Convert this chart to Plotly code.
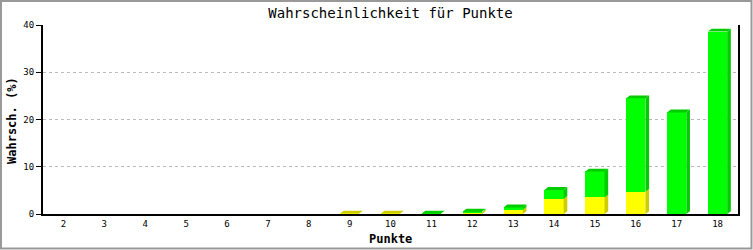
import plotly.graph_objects as go

# ---- data ----
punkte = [str(i) for i in range(2, 19)]
gelb = [0, 0, 0, 0, 0, 0, 0, 0.1, 0.1, 0, 0.3, 0.9, 3.2, 3.5, 4.7, 0, 0]
gruen = [0, 0, 0, 0, 0, 0, 0, 0, 0, 0.1, 0.2, 0.5, 1.9, 5.5, 19.8, 21.5, 38.6]
y_ticks = [0, 10, 20, 30, 40]

# ---- style ----
BAR_W = 0.47
DX = 0.09   # 3D depth in category units
DY = 0.6    # 3D depth in value units
Y_FRONT, Y_DARK = "#ffff00", "#cccc00"
G_FRONT, G_DARK = "#00ff00", "#00cc00"
MONO = "DejaVu Sans Mono, Liberation Mono, monospace"

xs = list(range(len(punkte)))

fig = go.Figure()
fig.add_trace(go.Bar(x=xs, y=gelb, width=BAR_W, marker=dict(color=Y_FRONT, line=dict(width=0)), hoverinfo="skip"))
fig.add_trace(go.Bar(x=xs, y=gruen, width=BAR_W, marker=dict(color=G_FRONT, line=dict(width=0)), hoverinfo="skip"))

def side(x, y0, y1):
    xr = x + BAR_W / 2
    return [xr, xr + DX, xr + DX, xr, xr, None], [y0, y0 + DY, y1 + DY, y1, y0, None]

def top(x, y):
    xl, xr = x - BAR_W / 2, x + BAR_W / 2
    return [xl, xl + DX, xr + DX, xr, xl, None], [y, y + DY, y + DY, y, y, None]

ysx, ysy, gsx, gsy, ytx, yty, gtx, gty = [], [], [], [], [], [], [], []
for x, a, b in zip(xs, gelb, gruen):
    if a + b <= 0:
        continue
    if a > 0:
        px, py = side(x, 0, a); ysx += px; ysy += py
    if b > 0:
        px, py = side(x, a, a + b); gsx += px; gsy += py
        px, py = top(x, a + b); gtx += px; gty += py
    else:
        px, py = top(x, a); ytx += px; yty += py

for px, py, col in [(ysx, ysy, Y_DARK), (gsx, gsy, G_DARK), (ytx, yty, Y_DARK), (gtx, gty, G_DARK)]:
    if px:
        fig.add_trace(go.Scatter(x=px, y=py, mode="lines", fill="toself", fillcolor=col,
                                 line=dict(width=0, color=col), hoverinfo="skip"))

# layout geometry (pixels)
L, R, T, B = 43, 15, 25, 36
PW, PH = 753 - L - R, 250 - T - B

def px2x(p):
    return (p - L) / PW

def py2y(p):
    return (250 - B - p) / PH

fig.add_shape(type="rect", xref="paper", yref="paper",
              x0=px2x(1), x1=px2x(751.5), y0=py2y(1), y1=py2y(248.5),
              line=dict(color="#999999", width=2), fillcolor="rgba(0,0,0,0)", layer="above")

fig.add_annotation(text="<b>Wahrsch. (%)</b>", xref="paper", yref="paper",
                   x=px2x(12), y=py2y(121), textangle=-90, showarrow=False,
                   xanchor="center", yanchor="middle",
                   font=dict(family=MONO, size=12, color="black"))
fig.add_annotation(text="<b>Punkte</b>", xref="paper", yref="paper",
                   x=0.5, y=py2y(239), showarrow=False,
                   xanchor="center", yanchor="middle",
                   font=dict(family=MONO, size=12, color="black"))

fig.update_layout(
    width=753, height=250,
    margin=dict(l=L, r=R, t=T, b=B, autoexpand=False),
    paper_bgcolor="white", plot_bgcolor="white",
    barmode="stack", bargap=0, showlegend=False,
    title=dict(text="Wahrscheinlichkeit für Punkte", x=0.5, xref="paper", xanchor="center",
               y=1 - 13 / 250, yanchor="middle", yref="container",
               font=dict(family=MONO, size=14, color="black")),
    font=dict(family=MONO, color="black"),
)
fig.update_xaxes(
    automargin=False,
    range=[-0.5, len(punkte) - 0.5], tickmode="array", tickvals=xs, ticktext=punkte,
    showgrid=False, zeroline=False, showline=True, linecolor="black", linewidth=2,
    ticks="", ticklabelstandoff=0, tickfont=dict(family=MONO, size=9, color="black"),
)
fig.update_yaxes(
    automargin=False,
    range=[0, 40], tickmode="array", tickvals=y_ticks,
    showgrid=True, gridcolor="#bbbbbb", griddash="3px,3px", gridwidth=1,
    zeroline=False, showline=True, mirror=True, linecolor="black", linewidth=2,
    ticks="outside", ticklen=5, tickcolor="black", tickwidth=1,
    tickfont=dict(family=MONO, size=9, color="black"),
)

fig.write_html("out.html")
